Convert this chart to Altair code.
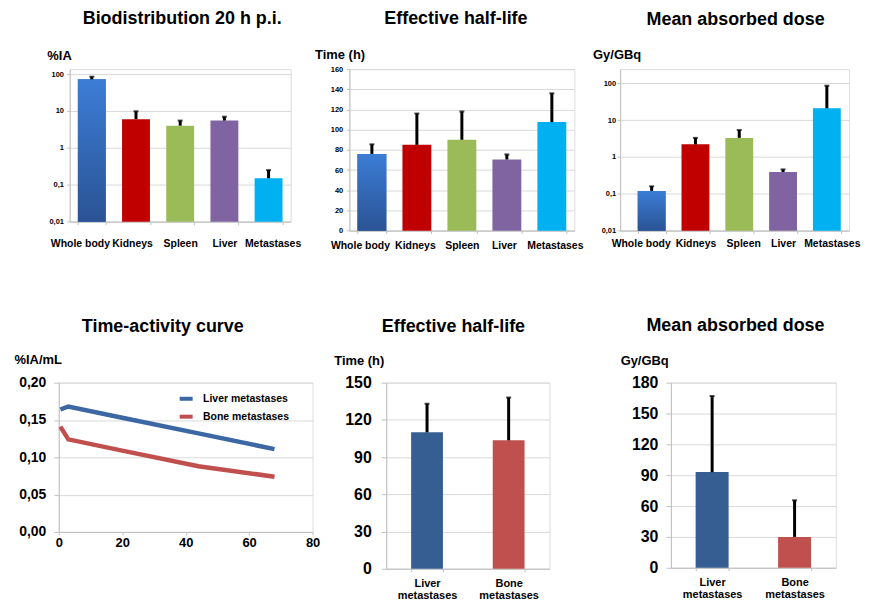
import altair as alt
import pandas as pd

FONT = "Liberation Sans"
GRID = "#D9D9D9"
AXIS = "#BFBFBF"

# ---------------- data ----------------
organs = ["Whole body", "Kidneys", "Spleen", "Liver", "Metastases"]
organ_colors = ["#3468B4", "#C00000", "#9BBB59", "#8064A2", "#00B0F0"]

biodist_ia = [72, 6.0, 4.0, 5.5, 0.15]
biodist_ia_err = [85, 9.8, 5.5, 7.0, 0.25]

halflife_h = [76, 85, 90, 70.5, 107.5]
halflife_h_err = [85.5, 116, 118, 75.5, 136]

dose_gy = [0.12, 2.2, 3.3, 0.39, 21]
dose_gy_err = [0.16, 3.3, 5.4, 0.46, 86]

met_types = ["Liver metastases", "Bone metastases"]
met_colors = ["#375E92", "#C0504D"]
met_halflife = [110, 103.5]
met_halflife_err = [133, 138]
met_dose = [93, 30]
met_dose_err = [167, 65.6]

tac_time = [0.5, 3, 20, 44, 68]
tac_liver = [0.164, 0.168, 0.153, 0.132, 0.111]
tac_bone = [0.141, 0.124, 0.109, 0.088, 0.074]
line_colors = ["#3B67A3", "#C0504D"]

log_ticks = [0.01, 0.1, 1, 10, 100]

GRAD = alt.Gradient(
    gradient="linear",
    stops=[alt.GradientStop(offset=0, color="#3C7DD6"),
           alt.GradientStop(offset=1, color="#2A5394")],
    x1=0, x2=0, y1=0, y2=1,
)


def title(text, dx, offset):
    return alt.TitleParams(text=text, fontSize=18, fontWeight="bold", font=FONT,
                           color="black", anchor="middle", frame="group",
                           dx=dx, offset=offset)


def bar_panel(cats, vals, errs, colors, width, height, ttl, tdx, toff,
              yscale, yaxis, xscale, xaxis, base_val=None, err_w=3, cap=5,
              gradient_cat=None):
    df = pd.DataFrame({"cat": cats, "val": vals, "err": errs})
    base = alt.Chart(df)
    x = alt.X("cat:N", sort=cats, scale=xscale, axis=xaxis, title=None)
    y = alt.Y("val:Q", scale=yscale, axis=yaxis)
    y_err = alt.Y("err:Q", scale=yscale, axis=yaxis)
    y2 = {"y2": alt.datum(base_val)} if base_val is not None else {}
    bars = base.mark_bar().encode(
        x=x, y=y,
        color=alt.Color("cat:N", scale=alt.Scale(domain=cats, range=colors), legend=None),
        **y2,
    )
    layers = [bars]
    if gradient_cat is not None:
        layers.append(base.transform_filter(alt.datum.cat == gradient_cat)
                      .mark_bar(color=GRAD).encode(x=x, y=y, **y2))
    layers.append(base.mark_rule(color="black", strokeWidth=err_w)
                  .encode(x=x, y=y, y2="err:Q"))
    layers.append(base.mark_tick(color="black", thickness=2, size=cap)
                  .encode(x=x, y=y_err))
    return alt.layer(*layers).properties(width=width, height=height,
                                         title=title(ttl, tdx, toff))


def cat_axis(size, pad, shifts=None, multiline=False, lh=12):
    kw = dict(labelAngle=0, labelFontSize=size, labelPadding=pad, tickSize=3,
              tickBand="extent", grid=False, domainColor=AXIS, tickColor=AXIS,
              labelColor="black", labelFontWeight="bold", labelFont=FONT,
              labelOverlap=False, labelBound=False, title=None)
    if shifts:
        kw["labelOffset"] = {
            "condition": [{"test": f"datum.value === '{k}'", "value": v}
                          for k, v in shifts.items()],
            "value": 0,
        }
    if multiline:
        kw.update(labelExpr="split(datum.label, ' ')", labelLineHeight=lh)
    return alt.Axis(**kw)


def val_axis(ttl, tx, ty, values, lsize, tick, pad, expr=None):
    kw = dict(title=ttl, titleAngle=0, titleAlign="left", titleBaseline="alphabetic",
              titleX=tx, titleY=ty, titleFontSize=13, titleFontWeight="bold",
              titleFont=FONT, titleColor="black", values=values,
              tickCount=len(values),
              labelFontSize=lsize, labelFontWeight="bold", labelColor="black",
              labelFont=FONT, tickSize=tick, labelPadding=pad, grid=True,
              labelOverlap=False, labelBound=False, labelFlush=False,
              gridColor=GRID, domainColor=AXIS, tickColor=AXIS)
    if expr:
        kw["labelExpr"] = expr
    return alt.Axis(**kw)


LOGEXPR = "replace(format(datum.value, '~g'), '.', ',')"

# ---------------- top row ----------------
p1 = bar_panel(
    organs, biodist_ia, biodist_ia_err, organ_colors, 222, 153.3,
    "Biodistribution 20 h p.i.", 2, 21,
    alt.Scale(type="log", domain=[0.01, 136.5], nice=False),
    val_axis("%IA", -23, -10, log_ticks, 7.5, 3, 3.3, LOGEXPR),
    alt.Scale(paddingInner=0.369, paddingOuter=0.1845),
    cat_axis(10.5, 14, {"Whole body": -12, "Kidneys": -4, "Metastases": 4}),
    base_val=0.01, gradient_cat="Whole body")

p2 = bar_panel(
    organs, halflife_h, halflife_h_err, organ_colors, 226, 162.3,
    "Effective half-life", -6, 21,
    alt.Scale(domain=[0, 160], nice=False),
    val_axis("Time (h)", -35, -10.5, list(range(0, 161, 20)), 7.5, 3, 3.7),
    alt.Scale(paddingInner=0.358, paddingOuter=0.179),
    cat_axis(10.5, 7.3, {"Whole body": -12, "Kidneys": -2, "Liver": -3, "Metastases": 3}),
    gradient_cat="Whole body")

p3 = bar_panel(
    organs, dose_gy, dose_gy_err, organ_colors, 230, 162.3,
    "Mean absorbed dose", 1, 19.5,
    alt.Scale(type="log", domain=[0.01, 243], nice=False),
    val_axis("Gy/GBq", -27.7, -11, log_ticks, 7.5, 3, 1.5, LOGEXPR),
    alt.Scale(paddingInner=0.364, paddingOuter=0.2955, align=0.68),
    cat_axis(10.5, 5, {"Whole body": -11, "Spleen": 4, "Metastases": 5}),
    base_val=0.01, gradient_cat="Whole body")

# ---------------- bottom row ----------------
tac_df = pd.DataFrame({
    "t": tac_time + tac_time,
    "v": tac_liver + tac_bone,
    "series": [met_types[0]] * len(tac_time) + [met_types[1]] * len(tac_time),
})

p4 = alt.Chart(tac_df).mark_line(strokeWidth=4.5).encode(
    x=alt.X("t:Q", scale=alt.Scale(domain=[0, 80], nice=False),
            axis=alt.Axis(values=[0, 20, 40, 60, 80], grid=False, title=None,
                          labelFontSize=13, labelFontWeight="bold", labelColor="black",
                          labelFont=FONT, tickSize=3, labelPadding=1.5,
                          labelOverlap=False, labelBound=False, labelFlush=False,
                          domainColor=AXIS, tickColor=AXIS)),
    y=alt.Y("v:Q", scale=alt.Scale(domain=[0, 0.2], nice=False),
            axis=val_axis("%IA/mL", -45, -19, [0, 0.05, 0.1, 0.15, 0.2], 14, 5, 8,
                          "replace(format(datum.value, '.2f'), '.', ',')")),
    color=alt.Color("series:N", sort=met_types,
                    scale=alt.Scale(domain=met_types, range=line_colors),
                    legend=alt.Legend(orient="none", legendX=119, legendY=7.2, title=None,
                                      symbolType="stroke", symbolStrokeWidth=4,
                                      symbolSize=170, labelFontSize=10.5,
                                      labelFontWeight="bold", labelColor="black",
                                      labelFont=FONT, rowPadding=1, padding=0,
                                      labelOffset=8)),
).properties(width=255, height=150, title=title("Time-activity curve", -23, 18.3))

p5 = bar_panel(
    met_types, met_halflife, met_halflife_err, met_colors, 164, 187,
    "Effective half-life", -14.5, 18.5,
    alt.Scale(domain=[0, 150], nice=False),
    val_axis("Time (h)", -52.7, -18, list(range(0, 151, 30)), 16, 5, 10),
    alt.Scale(paddingInner=0.61, paddingOuter=0.305),
    cat_axis(11, 6, multiline=True), err_w=3, cap=5)

p6 = bar_panel(
    met_types, met_dose, met_dose_err, met_colors, 165.7, 186,
    "Mean absorbed dose", -18, 19.4,
    alt.Scale(domain=[0, 180], nice=False),
    val_axis("Gy/GBq", -51, -18.6, list(range(0, 181, 30)), 16, 5, 8),
    alt.Scale(paddingInner=0.60, paddingOuter=0.30),
    cat_axis(11, 5.5, multiline=True), err_w=3, cap=5)


# ---------------- layout ----------------
spacer_df = pd.DataFrame({"s": [0.0]})


def spacer(w):
    return alt.Chart(spacer_df).mark_point(opacity=0, size=0).encode(
        x=alt.X("s:Q", axis=None), y=alt.Y("s:Q", axis=None)).properties(
        width=w, height=0.01,
        view=alt.ViewBackground(stroke="transparent", strokeWidth=0, strokeOpacity=0,
                                fill="transparent", fillOpacity=0))


row1 = alt.hconcat(spacer(10.7), p1, spacer(59), p2, spacer(45.7), p3,
                   spacing=0, bounds="flush").resolve_scale(
    color="independent", x="independent", y="independent")
row2 = alt.hconcat(p4, spacer(73.4), p5, spacer(122), p6,
                   spacing=0, bounds="flush").resolve_scale(
    color="independent", x="independent", y="independent")

chart = alt.vconcat(row1, row2, spacing=64).resolve_scale(
    color="independent", x="independent", y="independent").properties(
    padding={"left": 5, "top": 0, "right": 0, "bottom": 0}
).configure_view(stroke="transparent", strokeWidth=0).configure(font=FONT)

chart.save("out.html", embed_options={"renderer": "svg", "actions": False})
